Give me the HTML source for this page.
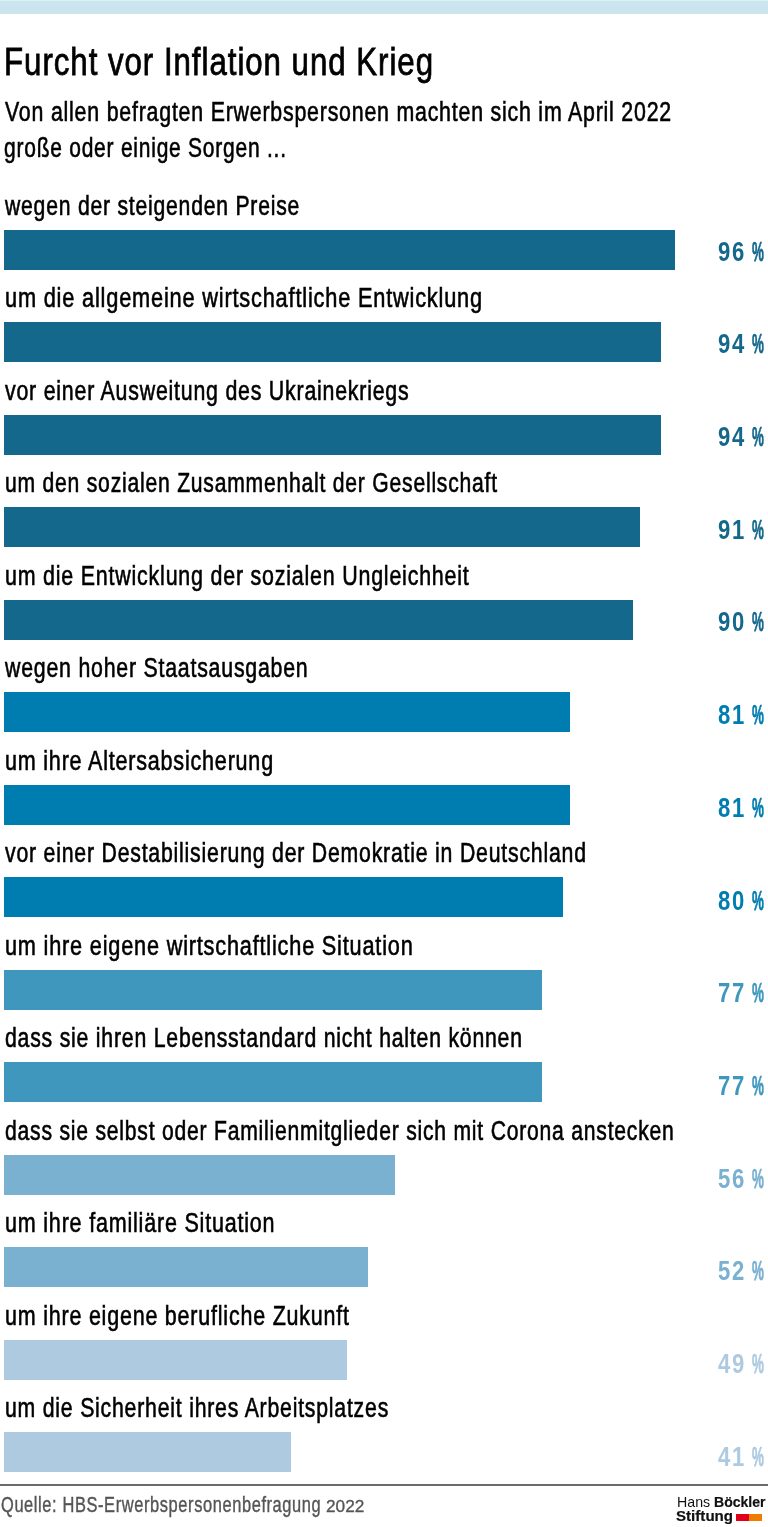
<!DOCTYPE html>
<html lang="de"><head><meta charset="utf-8"><title>Furcht vor Inflation und Krieg</title>
<style>
html,body{margin:0;padding:0;background:#fff}
body{width:768px;height:1527px;position:relative;overflow:hidden;font-family:"Liberation Sans",sans-serif;color:#000}
.topband{position:absolute;left:0;top:0;width:768px;height:13.5px;background:#cbe5ef;border-top:1px solid #def0f3;box-sizing:border-box}
.t{position:absolute;white-space:nowrap;transform-origin:0 0;margin:0;font-weight:400}
.title{font-size:39px;line-height:39px;-webkit-text-stroke:0.8px #000;letter-spacing:1.2px}
.sub,.lab{font-size:27px;line-height:27px;-webkit-text-stroke:0.6px #000;letter-spacing:1px}
.pct{font-size:28.3px;line-height:28.3px;font-weight:700}
.num{letter-spacing:2.3px}
.src{font-size:21.6px;line-height:21.6px;color:#555;-webkit-text-stroke:0.4px #555;letter-spacing:0.8px}
.src.y{font-size:16px;line-height:16px;-webkit-text-stroke:0.3px #555;letter-spacing:0}
.bar{position:absolute;left:4px;height:40px}
.rule{position:absolute;left:0;top:1484px;width:768px;height:2px;background:#6b6b6b}
.lg{font-size:14.6px;line-height:14.6px;color:#111}
.lg.b{font-weight:700;-webkit-text-stroke:0.2px #111}
.sq{position:absolute;top:1513.7px;width:13.2px;height:7.1px}
</style></head><body>
<div class="topband"></div>
<header>
<h1 class="t title" style="left:4.30px;top:42px;transform:scaleX(0.8011)">Furcht vor Inflation und Krieg</h1>
<div class="t sub" style="left:5.30px;top:99px;transform:scaleX(0.7903)">Von allen befragten Erwerbspersonen machten sich im April 2022</div>
<div class="t sub" style="left:4.22px;top:135px;transform:scaleX(0.7764)">große oder einige Sorgen ...</div>
</header>
<main>
<section class="row">
<div class="t lab" style="left:5.00px;top:193px;transform:scaleX(0.7832)">wegen der steigenden Preise</div>
<div class="bar" style="top:230px;width:671px;background:#14688c"></div>
<div class="t pct num" style="left:717.50px;top:237px;transform:scaleX(0.7800);color:#14688c">96</div>
<div class="t pct pc" style="left:751.50px;top:237px;transform:scaleX(0.4720);color:#14688c;-webkit-text-stroke:0.75px #14688c">%</div>
</section>
<section class="row">
<div class="t lab" style="left:4.59px;top:285px;transform:scaleX(0.8063)">um die allgemeine wirtschaftliche Entwicklung</div>
<div class="bar" style="top:322px;width:657px;background:#14688c"></div>
<div class="t pct num" style="left:717.50px;top:329px;transform:scaleX(0.7800);color:#14688c">94</div>
<div class="t pct pc" style="left:751.50px;top:329px;transform:scaleX(0.4720);color:#14688c;-webkit-text-stroke:0.75px #14688c">%</div>
</section>
<section class="row">
<div class="t lab" style="left:5.00px;top:378px;transform:scaleX(0.7896)">vor einer Ausweitung des Ukrainekriegs</div>
<div class="bar" style="top:415px;width:657px;background:#14688c"></div>
<div class="t pct num" style="left:717.50px;top:422px;transform:scaleX(0.7800);color:#14688c">94</div>
<div class="t pct pc" style="left:751.50px;top:422px;transform:scaleX(0.4720);color:#14688c;-webkit-text-stroke:0.75px #14688c">%</div>
</section>
<section class="row">
<div class="t lab" style="left:4.62px;top:470px;transform:scaleX(0.7820)">um den sozialen Zusammenhalt der Gesellschaft</div>
<div class="bar" style="top:507px;width:636px;background:#14688c"></div>
<div class="t pct num" style="left:717.50px;top:515px;transform:scaleX(0.7800);color:#14688c">91</div>
<div class="t pct pc" style="left:751.50px;top:515px;transform:scaleX(0.4720);color:#14688c;-webkit-text-stroke:0.75px #14688c">%</div>
</section>
<section class="row">
<div class="t lab" style="left:4.61px;top:563px;transform:scaleX(0.7930)">um die Entwicklung der sozialen Ungleichheit</div>
<div class="bar" style="top:600px;width:629px;background:#14688c"></div>
<div class="t pct num" style="left:717.50px;top:607px;transform:scaleX(0.7800);color:#14688c">90</div>
<div class="t pct pc" style="left:751.50px;top:607px;transform:scaleX(0.4720);color:#14688c;-webkit-text-stroke:0.75px #14688c">%</div>
</section>
<section class="row">
<div class="t lab" style="left:5.00px;top:655px;transform:scaleX(0.7887)">wegen hoher Staatsausgaben</div>
<div class="bar" style="top:692px;width:566px;background:#007db0"></div>
<div class="t pct num" style="left:717.50px;top:700px;transform:scaleX(0.7800);color:#007db0">81</div>
<div class="t pct pc" style="left:751.50px;top:700px;transform:scaleX(0.4720);color:#007db0;-webkit-text-stroke:0.75px #007db0">%</div>
</section>
<section class="row">
<div class="t lab" style="left:4.60px;top:748px;transform:scaleX(0.7976)">um ihre Altersabsicherung</div>
<div class="bar" style="top:785px;width:566px;background:#007db0"></div>
<div class="t pct num" style="left:717.50px;top:793px;transform:scaleX(0.7800);color:#007db0">81</div>
<div class="t pct pc" style="left:751.50px;top:793px;transform:scaleX(0.4720);color:#007db0;-webkit-text-stroke:0.75px #007db0">%</div>
</section>
<section class="row">
<div class="t lab" style="left:5.00px;top:840px;transform:scaleX(0.7874)">vor einer Destabilisierung der Demokratie in Deutschland</div>
<div class="bar" style="top:877px;width:559px;background:#007db0"></div>
<div class="t pct num" style="left:717.50px;top:886px;transform:scaleX(0.7800);color:#007db0">80</div>
<div class="t pct pc" style="left:751.50px;top:886px;transform:scaleX(0.4720);color:#007db0;-webkit-text-stroke:0.75px #007db0">%</div>
</section>
<section class="row">
<div class="t lab" style="left:4.60px;top:933px;transform:scaleX(0.8038)">um ihre eigene wirtschaftliche Situation</div>
<div class="bar" style="top:970px;width:538px;background:#3f97be"></div>
<div class="t pct num" style="left:717.50px;top:978px;transform:scaleX(0.7800);color:#3f97be">77</div>
<div class="t pct pc" style="left:751.50px;top:978px;transform:scaleX(0.4720);color:#3f97be;-webkit-text-stroke:0.75px #3f97be">%</div>
</section>
<section class="row">
<div class="t lab" style="left:4.61px;top:1025px;transform:scaleX(0.7864)">dass sie ihren Lebensstandard nicht halten können</div>
<div class="bar" style="top:1062px;width:538px;background:#3f97be"></div>
<div class="t pct num" style="left:717.50px;top:1071px;transform:scaleX(0.7800);color:#3f97be">77</div>
<div class="t pct pc" style="left:751.50px;top:1071px;transform:scaleX(0.4720);color:#3f97be;-webkit-text-stroke:0.75px #3f97be">%</div>
</section>
<section class="row">
<div class="t lab" style="left:4.62px;top:1118px;transform:scaleX(0.7824)">dass sie selbst oder Familienmitglieder sich mit Corona anstecken</div>
<div class="bar" style="top:1155px;width:391px;background:#7ab0d0"></div>
<div class="t pct num" style="left:717.50px;top:1164px;transform:scaleX(0.7800);color:#7ab0d0">56</div>
<div class="t pct pc" style="left:751.50px;top:1164px;transform:scaleX(0.4720);color:#7ab0d0;-webkit-text-stroke:0.75px #7ab0d0">%</div>
</section>
<section class="row">
<div class="t lab" style="left:4.60px;top:1210px;transform:scaleX(0.7973)">um ihre familiäre Situation</div>
<div class="bar" style="top:1247px;width:364px;background:#7ab0d0"></div>
<div class="t pct num" style="left:717.50px;top:1256px;transform:scaleX(0.7800);color:#7ab0d0">52</div>
<div class="t pct pc" style="left:751.50px;top:1256px;transform:scaleX(0.4720);color:#7ab0d0;-webkit-text-stroke:0.75px #7ab0d0">%</div>
</section>
<section class="row">
<div class="t lab" style="left:4.61px;top:1303px;transform:scaleX(0.7949)">um ihre eigene berufliche Zukunft</div>
<div class="bar" style="top:1340px;width:343px;background:#aecae0"></div>
<div class="t pct num" style="left:717.50px;top:1349px;transform:scaleX(0.7800);color:#aecae0">49</div>
<div class="t pct pc" style="left:751.50px;top:1349px;transform:scaleX(0.4720);color:#aecae0;-webkit-text-stroke:0.75px #aecae0">%</div>
</section>
<section class="row">
<div class="t lab" style="left:4.61px;top:1395px;transform:scaleX(0.7866)">um die Sicherheit ihres Arbeitsplatzes</div>
<div class="bar" style="top:1432px;width:287px;background:#aecae0"></div>
<div class="t pct num" style="left:717.50px;top:1442px;transform:scaleX(0.7800);color:#aecae0">41</div>
<div class="t pct pc" style="left:751.50px;top:1442px;transform:scaleX(0.4720);color:#aecae0;-webkit-text-stroke:0.75px #aecae0">%</div>
</section>
</main>
<footer>
<div class="rule"></div>
<div class="t src" style="left:1.24px;top:1494px;transform:scaleX(0.7603)">Quelle: HBS-Erwerbspersonenbefragung</div>
<div class="t src y" style="left:326.40px;top:1499px;transform:scaleX(1.0771)">2022</div>
<div class="logo">
<div class="t lg" style="left:676.63px;top:1495px;transform:scaleX(0.9727)">Hans</div>
<div class="t lg b" style="left:714.04px;top:1495px;transform:scaleX(0.9615)">Böckler</div>
<div class="t lg b" style="left:676.26px;top:1509px;transform:scaleX(1.0358)">Stiftung</div>
<div class="sq" style="left:736.3px;background:#e2001a"></div>
<div class="sq" style="left:749.3px;background:#f07d00"></div>
</div>
</footer>
</body></html>
